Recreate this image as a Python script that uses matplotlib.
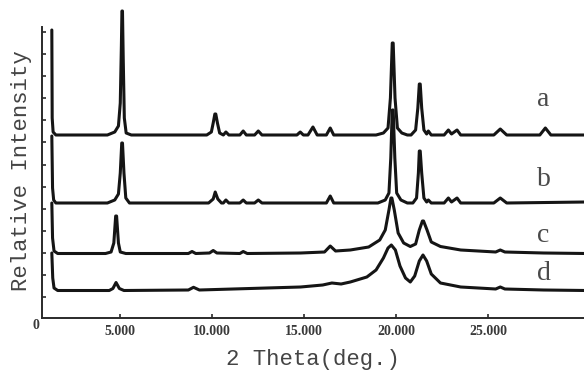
"""
XRD patterns a-d, stacked, redrawn from a scanned figure
"""
import matplotlib
matplotlib.use("Agg")
import matplotlib.pyplot as plt

# Traces: 2-theta (deg.) and relative intensity (offset already applied)
A_X = [1.28, 1.30, 1.35, 1.5, 4.3, 4.7, 4.9, 5.0, 5.06, 5.09, 5.12, 5.16, 5.22, 5.32, 5.6,
       9.7, 9.95, 10.05, 10.14, 10.19, 10.28, 10.4, 10.6, 10.74, 10.9, 11.5, 11.68, 11.85,
       12.3, 12.5, 12.7, 14.6, 14.78, 14.95, 15.2, 15.47, 15.7, 16.2, 16.41, 16.6,
       18.9, 19.3, 19.55, 19.68, 19.78, 19.83, 19.93, 20.06, 20.3, 20.6, 20.8, 21.05,
       21.17, 21.25, 21.3, 21.38, 21.5, 21.65, 21.74, 21.9, 22.6, 22.83, 23.0, 23.3,
       23.5, 25.3, 25.65, 26.0, 27.8, 28.1, 28.4, 30.3]
A_Y = [288, 200, 186, 183, 183, 186, 192, 215, 272, 307, 307, 260, 200, 185, 183,
       183, 186, 195, 204, 204, 195, 185, 183, 186, 183, 183, 187, 183,
       183, 187, 183, 183, 186, 183, 183, 191, 183, 183, 190, 183,
       183, 185, 190, 220, 275, 275, 220, 190, 185, 183, 183, 188,
       210, 234, 234, 210, 188, 184, 187, 183, 183, 188, 184, 188,
       183, 183, 189, 183, 183, 190, 183, 183]

B_X = [1.28, 1.32, 1.38, 1.5, 4.3, 4.7, 4.9, 5.0, 5.08, 5.12, 5.2, 5.3, 5.5,
       9.8, 10.05, 10.16, 10.3, 10.5, 10.6, 10.74, 10.9, 11.5, 11.68, 11.85,
       12.3, 12.5, 12.7, 16.2, 16.41, 16.6, 19.0, 19.4, 19.6, 19.7, 19.78, 19.83,
       19.92, 20.02, 20.25, 20.6, 20.9, 21.1, 21.2, 21.25, 21.3, 21.38, 21.5, 21.65,
       21.74, 21.9, 22.6, 22.83, 23.0, 23.3, 23.5, 25.3, 25.65, 26.0, 30.3]
B_Y = [182, 130, 118, 115, 115, 118, 124, 145, 175, 175, 145, 120, 115,
       115, 119, 126, 119, 115, 115, 118, 115, 115, 118, 115,
       115, 118, 115, 115, 122, 115, 115, 118, 125, 160, 208, 208,
       160, 125, 118, 115, 115, 120, 145, 167, 167, 145, 120, 116,
       118, 115, 115, 120, 116, 120, 115, 115, 120, 115, 116]

C_X = [1.28, 1.32, 1.4, 1.6, 4.2, 4.5, 4.65, 4.75, 4.80, 4.9, 5.0, 5.3, 8.7, 8.9, 9.1,
       9.85, 10.05, 10.25, 11.5, 11.68, 11.9, 14.8, 16.1, 16.41, 16.7, 17.5, 18.5,
       19.1, 19.4, 19.6, 19.71, 19.76, 19.89, 20.1, 20.4, 20.76, 21.05, 21.25, 21.42,
       21.48, 21.67, 21.9, 22.4, 23.5, 25.4, 25.65, 25.9, 28.0, 30.3]
C_Y = [115, 80, 67, 64.5, 64.5, 66, 75, 102, 102, 75, 66, 64.5, 64.5, 66.5, 64.5,
       65, 67.5, 65, 64.5, 66.5, 64.5, 65, 66, 72, 67, 68, 71,
       78, 88, 108, 120, 120, 108, 85, 75, 71.5, 74, 88, 97,
       97, 88, 76, 71.5, 68, 66, 68, 66, 65, 64.5]

D_X = [1.28, 1.33, 1.4, 1.6, 4.4, 4.6, 4.77, 4.95, 5.2, 8.7, 8.98, 9.3, 14.8,
       16.0, 16.5, 17.0, 17.5, 18.4, 18.9, 19.3, 19.55, 19.73, 19.95, 20.2, 20.5,
       20.76, 21.0, 21.25, 21.45, 21.65, 21.9, 22.4, 23.5, 25.4, 25.65, 25.9,
       28.0, 30.3]
D_Y = [65, 40, 30, 27.5, 27.5, 29.5, 35.5, 29.5, 27.5, 28, 30.7, 28, 31,
       33, 35, 34, 36, 41, 48, 60, 70, 73, 68, 52, 40,
       36, 42, 57, 63, 57, 44, 35, 31, 29, 31, 29,
       28, 27.5]

CURVE_LABELS = ["a", "b", "c", "d"]
LABEL_X = 28.0
LABEL_Y = [218, 138, 83, 45]

XTICKS = [5, 10, 15, 20, 25]
XTICK_LABELS = ["5.000", "10.000", "15.000", "20.000", "25.000"]
YTICKS = [286, 264, 242, 220, 198, 176, 153, 131, 109, 87, 65, 43, 21]

INK = "#151515"
GREY = "#3a3a3a"


def main():
    fig = plt.figure(figsize=(5.84, 3.75), dpi=100)
    ax = fig.add_axes([0.0714, 0.152, 0.9286, 0.848])

    for xs, ys in [(A_X, A_Y), (B_X, B_Y), (C_X, C_Y), (D_X, D_Y)]:
        ax.plot(xs, ys, color=INK, lw=2.2, solid_joinstyle="round",
                solid_capstyle="round")

    for lab, ly in zip(CURVE_LABELS, LABEL_Y):
        ax.text(LABEL_X, ly, lab, ha="center", va="center", fontsize=20,
                family="Liberation Serif", color="#4a4a4a")

    ax.set_xlim(0.73, 30.2)
    ax.set_ylim(0, 318)

    # axes look
    for side in ["top", "right"]:
        ax.spines[side].set_visible(False)
    ax.spines["left"].set_bounds(0, 291)
    for side in ["left", "bottom"]:
        ax.spines[side].set_linewidth(1.4)
        ax.spines[side].set_color("#2a2a2a")

    ax.set_xticks(XTICKS)
    ax.set_xticklabels(XTICK_LABELS, family="Liberation Serif",
                       fontweight="bold", fontsize=10, color=GREY)
    ax.set_yticks(YTICKS)
    ax.set_yticklabels([])
    ax.tick_params(axis="both", direction="in", length=3, width=1.2,
                   color="#2a2a2a")
    ax.tick_params(axis="x", pad=5)
    ax.text(0.41, -7.7, "0", ha="center", va="center", fontsize=10,
            family="Liberation Serif", fontweight="bold", color=GREY,
            clip_on=False)

    ax.set_xlabel("2 Theta(deg.)", family="Liberation Mono", fontsize=16,
                  color="#444444", labelpad=8)
    fig.text(0.037, 0.545, "Relative Intensity", rotation=90, ha="center",
             va="center", family="Liberation Mono", fontsize=16,
             color="#444444")

    fig.savefig("out.png", dpi=100)


if __name__ == "__main__":
    main()
